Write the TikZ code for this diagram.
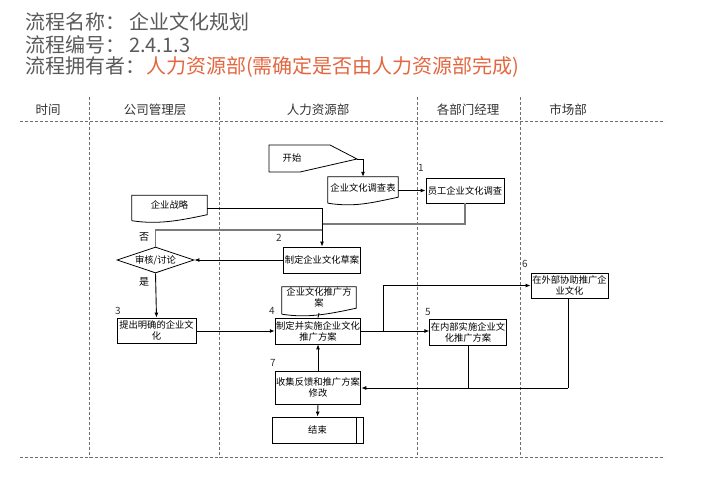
\documentclass[tikz,border=0pt]{standalone}
\usepackage{fontspec}
\setmainfont{Noto Sans CJK SC}
\usetikzlibrary{arrows.meta,shapes.geometric,calc}
\definecolor{titlegray}{HTML}{5A5A5A}
\definecolor{titlered}{HTML}{E4663F}
\definecolor{hdrgray}{HTML}{333333}
\definecolor{lanegray}{HTML}{6E6E6E}
\definecolor{loopgray}{HTML}{7A7A7A}
\newcommand\docshape[1]{%
  \draw[shp] (#1.south west) -- (#1.north west) -- (#1.north east) -- ([yshift=6pt]#1.south east)
    .. controls ([xshift=-28pt,yshift=0pt]#1.south east) and ([xshift=26pt,yshift=-4pt]#1.south west) .. (#1.south west);}
\begin{document}
\begin{tikzpicture}[x=1pt,y=-1pt,
  shp/.style={draw=black,line width=0.8pt},
  txt/.style={font=\fontsize{9.3}{11}\selectfont,align=center,inner sep=1pt,text=black},
  procbox/.style={txt,draw=black,line width=0.8pt,fill=white,rectangle},
  docnode/.style={txt},
  ln/.style={draw=black,line width=0.9pt},
  lp/.style={draw=loopgray,line width=1.2pt},
  arr/.style={ln,-{Latex[length=5pt,width=4pt]}},
  lane/.style={draw=lanegray,line width=0.9pt,dash pattern=on 3pt off 2pt},
  numlbl/.style={font=\fontsize{10}{12}\selectfont,inner sep=0pt,text=hdrgray},
  hdr/.style={font=\fontsize{12.5}{14}\selectfont,inner sep=0pt,text=hdrgray},
  ttl/.style={font=\fontsize{20}{22}\selectfont,inner sep=0pt,anchor=west,text=titlegray},
  yn/.style={font=\fontsize{10}{12}\selectfont,inner sep=0pt,text=black}
]
\useasboundingbox (0,0) rectangle (720,498);
\fill[white] (0,0) rectangle (720,498);

% title
\node[ttl] (t1) at (25,22) {流程名称：\kern4pt 企业文化规划};
\node[ttl] (t2) at (25,45) {流程编号：\kern4pt 2.4.1.3};
\node[ttl] (t3) at (25,67) {流程拥有者：\kern1pt\textcolor{titlered}{人力资源部(需确定是否由人力资源部完成)}};

% lanes
\draw[lane] (20,121) -- (665,121);
\draw[lane] (20,457) -- (665,457);
\foreach \xx in {89,219,417,520} \draw[lane] (\xx,97) -- (\xx,458);

\node[hdr] (h1) at (48,110) {时间};
\node[hdr] (h2) at (155,110) {公司管理层};
\node[hdr] (h3) at (318,110) {人力资源部};
\node[hdr] (h4) at (468,110) {各部门经理};
\node[hdr] (h5) at (568,110) {市场部};

% start shape
\node[txt] (start) at (292,158) {开始};
\draw[shp] (269,145) -- (330,145) -- (357,159) -- (300,172) -- (269,172) -- cycle;
\coordinate (tip) at (357,159);

% survey document
\node[docnode,minimum width=70pt,minimum height=26pt] (survey) at (363,190) {};
\docshape{survey}
\node[txt] (surveyt) at (363,188) {企业文化调查表};

% employee survey
\node[procbox,minimum width=78pt,minimum height=25pt] (emp) at (465,190.5) {员工企业文化调查};

% strategy document
\node[docnode,minimum width=75pt,minimum height=25pt] (strat) at (169.5,208) {};
\docshape{strat}
\node[txt] (stratt) at (169.5,205) {企业战略};

% draft
\node[procbox,minimum width=77pt,minimum height=26pt] (draft) at (322,260) {制定企业文化草案};

% diamond
\node[txt,draw=black,line width=0.8pt,diamond,minimum width=77pt,minimum height=26pt,inner sep=0pt,aspect=3] (rev) at (155.5,260) {审核/讨论};

% propose
\node[procbox,minimum width=79pt,minimum height=25pt] (prop) at (156.5,330.5) {提出明确的企业文\\化};

% promo document
\node[docnode,minimum width=74pt,minimum height=27pt] (promo) at (319,300.5) {};
\docshape{promo}
\node[txt] (promot) at (319,297) {企业文化推广方\\案};

% implement
\node[procbox,minimum width=85pt,minimum height=26pt] (impl) at (318,331) {制定并实施企业文化\\推广方案};

% internal
\node[procbox,minimum width=72pt,minimum height=26pt] (intl) at (468,332) {在内部实施企业文\\化推广方案};

% external
\node[procbox,minimum width=77pt,minimum height=25pt] (extl) at (569.5,285.5) {在外部协助推广企\\业文化};

% collect
\node[procbox,minimum width=85pt,minimum height=33pt] (coll) at (318,387.5) {收集反馈和推广方案\\修改};

% end
\node[procbox,minimum width=91pt,minimum height=26pt] (fin) at (317.5,430) {结束};
\draw[shp] ([xshift=-7pt]fin.north east) -- ([xshift=-7pt]fin.south east);

% numbers
\node[numlbl] (n1) at (421,168) {1};
\node[numlbl] (n2) at (279,238) {2};
\node[numlbl] (n3) at (118,311) {3};
\node[numlbl] (n4) at (272,311) {4};
\node[numlbl] (n5) at (428,312) {5};
\node[numlbl] (n6) at (525,264) {6};
\node[numlbl] (n7) at (273,363) {7};

% yes / no
\node[yn] (no) at (144,237) {否};
\node[yn] (yes) at (144,282) {是};

% connectors
\coordinate (jstrat) at (322,208);
\coordinate (jemp) at (322,224);
\coordinate (jno) at (322,230);
\coordinate (jext) at (383,331);
\coordinate (jcol) at (568,388);

\draw[arr] (tip) -| (survey.north);
\draw[arr] (survey.east |- emp.west) -- (emp.west);
\draw[lp] (emp.south) |- (jemp);
\draw[lp] (rev.north) |- (jno);
\draw[ln] (strat.east |- jstrat) -- (jstrat);
\draw[arr] (jstrat) -- (draft.north);
\draw[arr] (draft.west) -- (rev.east);
\draw[arr] (rev.south) -- (prop.north);
\draw[arr] (prop.east |- impl.west) -- (impl.west);
\draw[ln] (promo.south |- 0,313) -- (impl.north);
\draw[arr] (impl.east) -- (intl.west |- impl.east);
\draw[arr] (jext) |- (extl.west);
\draw[ln] (extl.south -| jcol) -- (jcol);
\draw[arr] (jcol) -- (coll.east |- jcol);
\draw[ln] (intl.south) -- (intl.south |- jcol);
\draw[arr] (coll.north) -- (impl.south);
\draw[arr] (coll.south) -- (fin.north);
\end{tikzpicture}
\end{document}
